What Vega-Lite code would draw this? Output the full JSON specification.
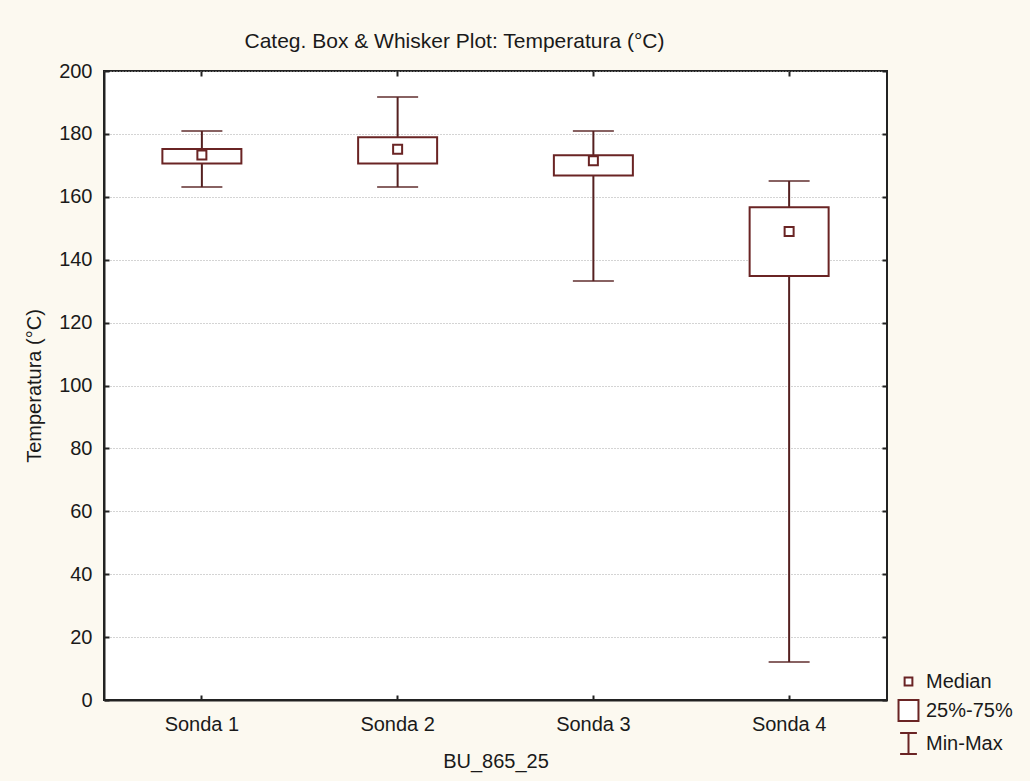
{
  "$schema": "https://vega.github.io/schema/vega-lite/v6.json",
  "autosize": "none",
  "width": 783,
  "height": 629,
  "padding": {"left": 104, "top": 71, "right": 143, "bottom": 81},
  "background": "#fcf9f0",
  "title": {
    "text": "Categ. Box & Whisker Plot: Temperatura (°C)",
    "font": "Liberation Sans",
    "fontSize": 21,
    "fontWeight": "normal",
    "color": "#1a1a1a",
    "anchor": "middle",
    "dx": -41,
    "offset": 9
  },
  "data": {
    "values": [
      {"sonda": "Sonda 1", "min": 163.1, "q1": 170.6, "median": 173.3, "q3": 175.2, "max": 180.9, "stat": "Median"},
      {"sonda": "Sonda 2", "min": 163.1, "q1": 170.6, "median": 175.1, "q3": 178.9, "max": 191.7, "stat": "Median"},
      {"sonda": "Sonda 3", "min": 133.2, "q1": 166.8, "median": 171.5, "q3": 173.2, "max": 180.9, "stat": "Median"},
      {"sonda": "Sonda 4", "min": 12.1, "q1": 134.8, "median": 149.0, "q3": 156.7, "max": 165.0, "stat": "Median"}
    ]
  },
  "config": {
    "font": "Liberation Sans",
    "view": {"fill": "white", "stroke": "#222222", "strokeWidth": 2},
    "axis": {
      "labelFont": "Liberation Sans",
      "titleFont": "Liberation Sans",
      "labelFontSize": 20,
      "titleFontSize": 20,
      "titleFontWeight": "normal",
      "labelColor": "#1a1a1a",
      "titleColor": "#1a1a1a",
      "domainColor": "#222222",
      "domainWidth": 2,
      "tickColor": "#222222",
      "tickWidth": 2,
      "tickSize": -5
    }
  },
  "resolve": {"axis": {"x": "independent", "y": "independent"}},
  "layer": [
    {
      "mark": {"type": "rule", "color": "#552020", "strokeWidth": 2},
      "encoding": {
        "x": {
          "field": "sonda", "type": "nominal",
          "scale": {"paddingInner": 0, "paddingOuter": 0},
          "axis": {"orient": "bottom", "labelAngle": 0, "labelPadding": 19, "title": "BU_865_25", "titlePadding": 17, "grid": false}
        },
        "y": {
          "field": "min", "type": "quantitative",
          "scale": {"domain": [0, 200], "nice": false},
          "axis": {"orient": "left", "values": [0, 20, 40, 60, 80, 100, 120, 140, 160, 180, 200], "labelPadding": 17, "title": "Temperatura (°C)", "titlePadding": 14, "grid": true, "gridColor": "#a8a8a8", "gridDash": [1, 2], "gridWidth": 1}
        },
        "y2": {"field": "max"}
      }
    },
    {
      "mark": {"type": "tick", "color": "#552020", "size": 41, "thickness": 2},
      "encoding": {
        "x": {"field": "sonda", "type": "nominal", "axis": {"orient": "top", "labels": false, "title": null, "domain": false}},
        "y": {"field": "min", "type": "quantitative", "axis": {"orient": "right", "labels": false, "title": null, "domain": false, "values": [0, 20, 40, 60, 80, 100, 120, 140, 160, 180, 200]}}
      }
    },
    {
      "mark": {"type": "tick", "color": "#552020", "size": 41, "thickness": 2},
      "encoding": {
        "x": {"field": "sonda", "type": "nominal", "axis": null},
        "y": {"field": "max", "type": "quantitative", "axis": null}
      }
    },
    {
      "mark": {"type": "bar", "fill": "white", "stroke": "#6a2424", "strokeWidth": 2, "size": 79},
      "encoding": {
        "x": {"field": "sonda", "type": "nominal", "axis": null},
        "y": {"field": "q1", "type": "quantitative", "axis": null},
        "y2": {"field": "q3"}
      }
    },
    {
      "mark": {"type": "point", "filled": false, "fill": "white", "strokeWidth": 2, "size": 592, "opacity": 1},
      "encoding": {
        "x": {"field": "sonda", "type": "nominal", "axis": null},
        "y": {"field": "median", "type": "quantitative", "axis": null},
        "stroke": {
          "field": "stat", "type": "nominal",
          "scale": {
            "domain": ["Median", "25%-75%", "Min-Max"],
            "range": ["#6a2424", "#6a2424", "#6a2424"]
          },
          "legend": {
            "title": null,
            "orient": "none",
            "legendX": 793,
            "legendY": 599,
            "symbolSize": 441,
            "symbolFillColor": "white",
            "symbolStrokeWidth": 2,
            "symbolOpacity": 1,
            "labelFont": "Liberation Sans",
            "labelFontSize": 20,
            "labelColor": "#1a1a1a",
            "labelOffset": 6,
            "rowPadding": 4
          }
        },
        "shape": {
          "field": "stat", "type": "nominal",
          "scale": {
            "domain": ["Median", "25%-75%", "Min-Max"],
            "range": ["M-0.37,-0.37H0.37V0.37H-0.37Z", "M-0.95,-1H0.95V1H-0.95Z", "M-0.8,-1H0.8M0,-1V1M-0.8,1H0.8"]
          },
          "legend": {
            "title": null,
            "orient": "none",
            "legendX": 793,
            "legendY": 599,
            "symbolSize": 441,
            "symbolFillColor": "white",
            "symbolStrokeWidth": 2,
            "symbolOpacity": 1,
            "labelFont": "Liberation Sans",
            "labelFontSize": 20,
            "labelColor": "#1a1a1a",
            "labelOffset": 6,
            "rowPadding": 4
          }
        }
      }
    }
  ]
}
